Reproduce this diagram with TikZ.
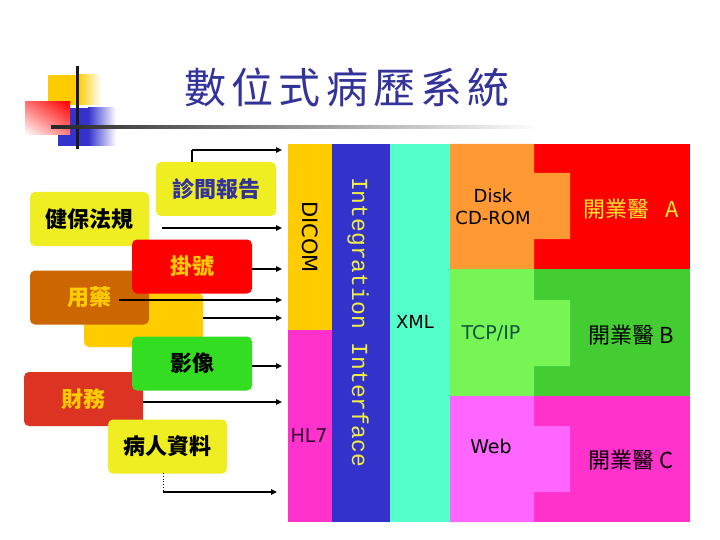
\documentclass[tikz,border=0pt]{standalone}
\usepackage{fontspec}
\setmainfont{DejaVu Sans}
\newfontfamily\cjk{Noto Sans CJK TC}
\newfontfamily\cjktitle[LetterSpace=12]{Noto Sans CJK TC}
\newfontfamily\monof{Liberation Mono}
\usetikzlibrary{arrows.meta,shadings}
\definecolor{navy}{HTML}{333399}
\definecolor{gold}{HTML}{FFCC00}
\definecolor{lemon}{HTML}{EEEE22}
\definecolor{brown}{HTML}{CC6600}
\definecolor{grass}{HTML}{33DD22}
\definecolor{brick}{HTML}{DD3322}
\definecolor{pinkm}{HTML}{FF33CC}
\definecolor{iblue}{HTML}{3333CC}
\definecolor{aqua}{HTML}{55FFCC}
\definecolor{orng}{HTML}{FF9933}
\definecolor{lgreen}{HTML}{77F555}
\definecolor{dgreen}{HTML}{44CC33}
\definecolor{lmag}{HTML}{FF66FF}
\definecolor{iyellow}{HTML}{EEEE44}
\definecolor{ayellow}{HTML}{FFEE33}
\definecolor{teal}{HTML}{115544}
\definecolor{plum}{HTML}{330033}
\begin{document}
\begin{tikzpicture}[x=1pt,y=-1pt,
  box/.style={rounded corners=5pt, minimum width=119, minimum height=54, inner sep=0pt,
    font=\cjk\bfseries\fontsize{22}{22}\selectfont},
  arr/.style={line width=1.5pt, -{Triangle[length=6pt,width=5.5pt]}},
  lbl/.style={font=\fontsize{19}{22}\selectfont, align=center, inner sep=0pt},
  cjklbl/.style={font=\cjk\fontsize{22}{24}\selectfont, inner sep=0pt}]
\useasboundingbox (0,0) rectangle (720,540);
\fill[white] (0,0) rectangle (720,540);

% logo
\fill[gold] (48,75) rectangle (78.5,105);
\shade[left color=gold, right color=white] (78,75) rectangle (101,105);
\fill[iblue] (58,108) rectangle (88.5,146);
\shade[left color=iblue, right color=white] (88,108) rectangle (116,146);
\shade[upper left=red!55, upper right=red, lower left=white, lower right=red!50] (25,102) rectangle (70,135);
\fill[black!90] (75.5,66) rectangle (78.5,149);
\shade[left color=black!85, right color=white] (51,125.5) rectangle (540,128.5);

% title
\node[text=navy, font=\cjktitle\fontsize{42}{42}\selectfont, inner sep=0pt] (title) at (347,87) {數位式病歷系統};

% right panel
\fill[gold] (288,144) rectangle (332,330);
\fill[pinkm] (288,330) rectangle (332,522);
\fill[iblue] (332,144) rectangle (390,522);
\fill[aqua] (390,144) rectangle (450,522);
\fill[red] (534,144) rectangle (690,269);
\fill[orng] (450,144) -- (534,144) -- (534,173) -- (570,173) -- (570,239) -- (534,239) -- (534,269) -- (450,269) -- cycle;
\fill[dgreen] (534,269) rectangle (690,396);
\fill[lgreen] (450,269) -- (534,269) -- (534,300) -- (570,300) -- (570,366) -- (534,366) -- (534,396) -- (450,396) -- cycle;
\fill[pinkm] (534,396) rectangle (690,522);
\fill[lmag] (450,396) -- (534,396) -- (534,426) -- (570,426) -- (570,492) -- (534,492) -- (534,522) -- (450,522) -- cycle;

\node[lbl, rotate=-90, font=\fontsize{21}{22}\selectfont] (dicom) at (310,237) {DICOM};
\node[lbl, text=plum] (hl7) at (309,436) {HL7};
\node[lbl, rotate=-90, text=iyellow, font=\monof\fontsize{23}{24}\selectfont] (ii) at (358,322) {Integration Interface};
\node[lbl, font=\fontsize{18}{20}\selectfont] (xml) at (415,322) {XML};
\node[lbl, font=\fontsize{18}{22}\selectfont] (disk) at (493,207) {Disk\\CD-ROM};
\node[lbl, text=teal] (tcp) at (491,333) {TCP/IP};
\node[lbl] (web) at (491,446) {Web};
\node[cjklbl, text=ayellow] (da) at (631,209) {開業醫\hspace{0.5em} A};
\node[cjklbl] (db) at (631,335) {開業醫 B};
\node[cjklbl] (dc) at (631,460) {開業醫 C};

% left boxes
\node[box, fill=lemon] (jb) at (89.5,219) {健保法規};
\node[box, fill=lemon, text=navy, minimum width=120] (zj) at (216,189) {診間報告};
\node[box, fill=gold] (ob) at (143.5,320) {};
\node[box, fill=brown, text=gold] (yy) at (89.5,297.5) {用藥};
\node[box, fill=red, text=gold, minimum width=120] (gh) at (192,266.5) {掛號};
\node[box, fill=brick, text=gold] (cw) at (83.5,399) {財務};
\node[box, fill=grass, minimum width=120] (yx) at (192,363.5) {影像};
\node[box, fill=lemon] (br) at (167.5,446.5) {病人資料};

% connectors
\coordinate (endx) at (282,0);
\coordinate (zjtop) at (192,150);
\coordinate (jbs) at (162,228);
\coordinate (yys) at (119,300);
\coordinate (brs) at (163,473);
\coordinate (brc) at (163,492);
\draw[line width=1.5pt] (zj.north -| zjtop) -- (zjtop);
\draw[arr] (zjtop) -- (zjtop -| endx);
\draw[arr] (jbs) -- (jbs -| endx);
\draw[arr] (gh.east |- 0,269) -- (endx |- 0,269);
\draw[arr] (yys) -- (yys -| endx);
\draw[arr] (ob.east |- 0,318) -- (endx |- 0,318);
\draw[arr] (yx.east |- 0,366) -- (endx |- 0,366);
\draw[arr] (cw.east |- 0,402) -- (endx |- 0,402);
\draw[dotted, line width=0.8pt] (brs) -- (brc);
\draw[arr] (brc) -- (277,492);
\end{tikzpicture}
\end{document}
